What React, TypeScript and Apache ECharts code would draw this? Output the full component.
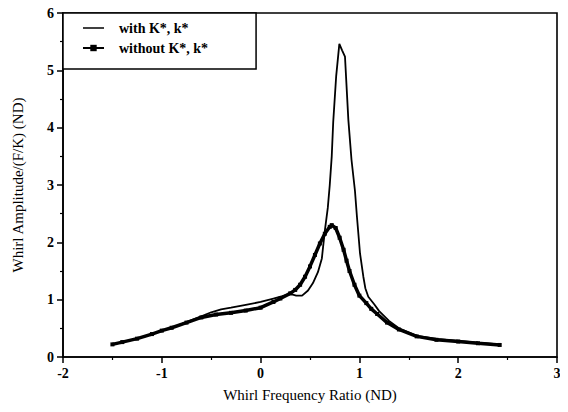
import React, { useEffect, useRef } from "react";
import * as echarts from "echarts";

const withX = [-1.5, -1.4, -1.25, -1.1, -1.0, -0.9, -0.75, -0.6, -0.5, -0.4, -0.3, -0.15, 0, 0.13, 0.22, 0.3, 0.36, 0.42, 0.48, 0.53, 0.58, 0.62, 0.65, 0.68, 0.7, 0.72, 0.735, 0.765, 0.797, 0.825, 0.854, 0.888, 0.92, 0.955, 0.975, 1.006, 1.04, 1.06, 1.09, 1.15, 1.2, 1.3, 1.4, 1.58, 1.8, 2.0, 2.2, 2.42];
const withY = [0.22, 0.26, 0.32, 0.4, 0.46, 0.51, 0.61, 0.71, 0.78, 0.83, 0.86, 0.91, 0.96, 1.02, 1.06, 1.1, 1.07, 1.07, 1.16, 1.29, 1.48, 1.72, 2.2, 2.6, 3.0, 3.5, 4.1, 4.9, 5.46, 5.35, 5.24, 4.14, 3.44, 2.9, 2.45, 1.81, 1.4, 1.2, 1.05, 0.92, 0.8, 0.63, 0.5, 0.37, 0.31, 0.28, 0.25, 0.22];

const withoutX = [-1.5, -1.4, -1.25, -1.1, -1.0, -0.9, -0.75, -0.6, -0.45, -0.3, -0.15, 0, 0.13, 0.2, 0.3, 0.35, 0.4, 0.45, 0.5, 0.55, 0.6, 0.65, 0.7, 0.72, 0.76, 0.8, 0.84, 0.87, 0.9, 0.95, 1.0, 1.07, 1.12, 1.18, 1.28, 1.4, 1.58, 1.78, 2.0, 2.2, 2.42];
const withoutY = [0.22, 0.26, 0.32, 0.4, 0.46, 0.51, 0.6, 0.69, 0.74, 0.77, 0.81, 0.86, 0.96, 1.02, 1.11, 1.17, 1.26, 1.4, 1.58, 1.78, 1.98, 2.15, 2.27, 2.3, 2.25, 2.08, 1.87, 1.68, 1.5, 1.26, 1.07, 0.94, 0.84, 0.75, 0.6, 0.48, 0.36, 0.3, 0.27, 0.24, 0.21];

const xTicks = { min: -2, max: 3, interval: 1 };
const yTicks = { min: 0, max: 6, interval: 1 };

const FONT = "Liberation Serif";

export default function App() {
  const ref = useRef<HTMLDivElement>(null);
  useEffect(() => {
    if (!ref.current) return;
    const chart = echarts.init(ref.current, null, { renderer: "svg" });
    const pair = (xs: number[], ys: number[]) => xs.map((x, i) => [x, ys[i]]);
    chart.setOption({
      animation: false,
      backgroundColor: "#fff",
      grid: {
        left: 63,
        right: 11,
        top: 13,
        bottom: 55,
        show: true,
        borderColor: "#000",
        borderWidth: 1.6,
        backgroundColor: "transparent",
      },
      legend: {
        orient: "vertical",
        left: 63,
        top: 13,
        backgroundColor: "#fff",
        borderColor: "#000",
        borderWidth: 1.5,
        borderRadius: 0,
        padding: [8, 48, 14, 19],
        itemWidth: 21,
        itemHeight: 8,
        itemGap: 6,
        textStyle: {
          fontFamily: FONT,
          fontSize: 14,
          fontWeight: "bold",
          color: "#000",
          padding: [0, 0, 0, 10],
        },
        data: [
          { name: "with K*, k*", icon: "path://M0,3.5 L21,3.5 L21,5 L0,5 Z" },
          { name: "without K*, k*" },
        ],
      },
      xAxis: {
        type: "value",
        min: xTicks.min,
        max: xTicks.max,
        interval: xTicks.interval,
        name: "Whirl Frequency Ratio (ND)",
        nameLocation: "middle",
        nameGap: 30,
        nameTextStyle: { fontFamily: FONT, fontSize: 15, color: "#000" },
        axisLine: { onZero: false, lineStyle: { color: "#000", width: 1.6 } },
        axisTick: { inside: false, length: 6, lineStyle: { color: "#000", width: 1.5 } },
        minorTick: { show: true, splitNumber: 2, length: 3, lineStyle: { color: "#000", width: 1.2 } },
        axisLabel: { fontFamily: FONT, fontSize: 14, fontWeight: "bold", color: "#000", margin: 9 },
        splitLine: { show: false },
      },
      yAxis: {
        type: "value",
        min: yTicks.min,
        max: yTicks.max,
        interval: yTicks.interval,
        name: "Whirl Amplitude/(F/K) (ND)",
        nameLocation: "middle",
        nameGap: 38,
        nameTextStyle: { fontFamily: FONT, fontSize: 15, color: "#000" },
        axisLine: { onZero: false, lineStyle: { color: "#000", width: 1.6 } },
        axisTick: { inside: false, length: 6, lineStyle: { color: "#000", width: 1.5 } },
        minorTick: { show: true, splitNumber: 2, length: 3, lineStyle: { color: "#000", width: 1.2 } },
        axisLabel: { fontFamily: FONT, fontSize: 14, fontWeight: "bold", color: "#000", margin: 9 },
        splitLine: { show: false },
      },
      series: [
        {
          name: "with K*, k*",
          type: "line",
          data: pair(withX, withY),
          showSymbol: false,
          symbol: "none",
          lineStyle: { color: "#000", width: 1.8 },
          itemStyle: { color: "#000" },
          z: 3,
        },
        {
          name: "without K*, k*",
          type: "line",
          data: pair(withoutX, withoutY),
          symbol: "rect",
          symbolSize: 4,
          lineStyle: { color: "#000", width: 3.5 },
          itemStyle: { color: "#000" },
          z: 2,
        },
      ],
    });
    return () => chart.dispose();
  }, []);
  return <div ref={ref} style={{ width: 568, height: 412, margin: -8 }} />;
}
